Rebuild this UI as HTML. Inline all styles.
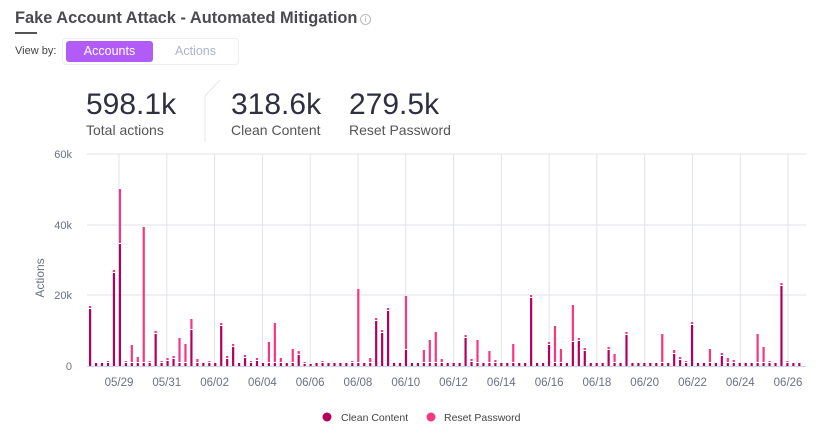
<!DOCTYPE html>
<html><head><meta charset="utf-8"><style>
body{margin:0;width:827px;height:437px;background:#fff;font-family:"Liberation Sans",sans-serif;overflow:hidden;position:relative}
.a{position:absolute;white-space:nowrap}
</style></head><body>
<div class="a" style="left:15px;top:9px;font-size:16.4px;font-weight:bold;color:#4b4b4f">Fake Account Attack - Automated Mitigation</div>
<div class="a" style="left:360px;top:14px;width:9px;height:9px;border:1px solid #bbb;border-radius:50%;font-size:8px;color:#aaa;text-align:center;line-height:9px">i</div>
<div class="a" style="left:15px;top:32px;width:22px;height:2px;background:#555"></div>
<div class="a" style="left:15px;top:45px;font-size:11px;color:#444">View by:</div>
<div class="a" style="left:62px;top:38px;width:175px;height:25px;border:1px solid #eceef2;border-radius:4px"></div>
<div class="a" style="left:66px;top:41px;width:87px;height:21px;background:#b25cf7;border-radius:3px;color:#fff;font-size:12.5px;text-align:center;line-height:21px">Accounts</div>
<div class="a" style="left:175px;top:44px;font-size:12.5px;color:#a9b4cc">Actions</div>
<div class="a" style="left:86px;top:88px;font-size:30px;color:#2e3040">598.1k</div>
<div class="a" style="left:86px;top:122px;font-size:14px;color:#555">Total actions</div>
<svg class="a" style="left:200px;top:78px" width="25" height="66"><line x1="5" y1="18" x2="5" y2="64" stroke="#e5e7ea"/><line x1="5" y1="18" x2="20" y2="2" stroke="#e5e7ea"/></svg>
<div class="a" style="left:231px;top:88px;font-size:30px;color:#2e3040">318.6k</div>
<div class="a" style="left:231px;top:122px;font-size:14px;color:#555">Clean Content</div>
<div class="a" style="left:349px;top:88px;font-size:30px;color:#2e3040">279.5k</div>
<div class="a" style="left:349px;top:122px;font-size:14px;color:#555">Reset Password</div>
<svg id="c" class="a" style="left:0;top:0" width="827" height="437" font-family="Liberation Sans, sans-serif"></svg>
<script>
var s='';
[154,225,295].forEach(function(y){s+='<line x1="87" x2="806" y1="'+y+'" y2="'+y+'" stroke="#e1e3ea"/>';});
var lab=['05/29','05/31','06/02','06/04','06/06','06/08','06/10','06/12','06/14','06/16','06/18','06/20','06/22','06/24','06/26'];
lab.forEach(function(l,k){var x=119+k*47.79;s+='<line x1="'+x+'" x2="'+x+'" y1="154" y2="366" stroke="#e1e3ea"/>';
s+='<text x="'+x+'" y="386" font-size="11.5" fill="#6b7184" text-anchor="middle">'+l+'</text>';});
s+='<line x1="87" x2="806" y1="366.5" y2="366.5" stroke="#cdd3e4"/>';
[['60k',158],['40k',229],['20k',299],['0',370]].forEach(function(t){s+='<text x="72" y="'+t[1]+'" font-size="11" fill="#6b7184" text-anchor="end">'+t[0]+'</text>';});
s+='<text transform="translate(44,278) rotate(-90)" font-size="12" fill="#6b7184" text-anchor="middle">Actions</text>';
var d={0:[309,306],3:[363,361],4:[273,270],5:[244,189],6:[363,361],7:[363,345],8:[363,357],9:[363,227],10:[363,361],11:[334,331],12:[363,361],13:[361,358],14:[359,356],15:[363,338],16:[363,344],17:[330,319],18:[363,359],20:[363,361],22:[326,323],23:[359,356],24:[347,344],26:[358,355],27:[363,361],28:[361,358],30:[363,342],31:[363,323],32:[363,358],34:[363,349],35:[355,351],36:[364,362],37:[364,364],
39:[363,361],41:[363,362],44:[363,361],45:[363,289],47:[363,358],48:[321,318],49:[333,330],50:[311,308],53:[350,296],54:[363,362],56:[363,350],57:[363,340],58:[363,332],59:[363,359],63:[338,335],64:[362,359],65:[363,340],67:[363,351],68:[363,360],69:[363,362],71:[363,344],74:[298,295],77:[345,342],78:[363,326],79:[363,349],81:[342,305],82:[341,338],83:[351,348],87:[350,347],88:[363,354],90:[335,332],96:[363,334],98:[354,350],99:[360,357],100:[363,361],101:[325,322],104:[363,349],106:[356,353],107:[363,358],108:[363,360],112:[363,334],113:[363,347],114:[363,361],116:[286,283],117:[363,361],119:[363,362]};
for(var i=0;i<120;i++){var x=89+i*5.96;var v=d[i]||[363,363];
s+='<rect x="'+x+'" y="'+v[0]+'" width="2.2" height="'+(366-v[0])+'" fill="#b3005e"/>';
if(v[0]-v[1]>1)s+='<rect x="'+x+'" y="'+v[1]+'" width="2.2" height="'+(v[0]-v[1]-1)+'" fill="#f7377f"/>';}
s+='<circle cx="327" cy="417" r="4.5" fill="#b3005e"/><text x="341" y="421" font-size="10.5" fill="#444">Clean Content</text>';
s+='<circle cx="431" cy="417" r="4.5" fill="#f7377f"/><text x="444" y="421" font-size="10.5" fill="#444">Reset Password</text>';
document.getElementById('c').innerHTML=s;
</script>
</body></html>
